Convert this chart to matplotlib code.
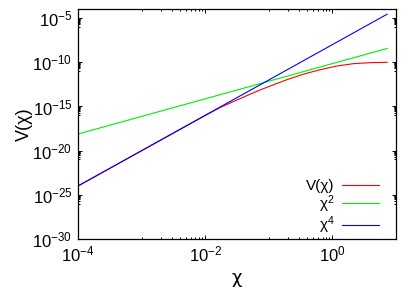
import matplotlib
matplotlib.use("Agg")
import matplotlib.pyplot as plt
import numpy as np
from matplotlib.ticker import FixedLocator, LogFormatterSciNotation, NullFormatter

plt.rcParams['font.family'] = ['Liberation Sans', 'DejaVu Sans']
plt.rcParams['mathtext.fontset'] = 'custom'
plt.rcParams['mathtext.rm'] = 'Liberation Sans'
plt.rcParams['mathtext.it'] = 'Liberation Sans:italic'
plt.rcParams['mathtext.bf'] = 'Liberation Sans:bold'
plt.rcParams['axes.unicode_minus'] = False

# data
v_x = [1e-4, 1e-2, 0.0172, 0.0251, 0.0356, 0.0501, 0.0735, 0.120, 0.194,
       0.355, 0.647, 1.175, 2.16, 3.98, 7.26]
v_y = [1e-24, 9.5e-17, 7.6e-16, 2.63e-15, 7.9e-15, 2.34e-14, 7.6e-14, 3.0e-13, 1.1e-12,
       4.7e-12, 1.48e-11, 3.8e-11, 7.1e-11, 9.1e-11, 1.0e-10]
chi2_x = [1e-4, 7.26]
chi2_y = [7.6e-19, 3.7e-9]
chi4_x = [1e-4, 7.26]
chi4_y = [1e-24, 2.8e-5]

labels = ['V(χ)', 'χ$^{2}$', 'χ$^{4}$']
colors = ['#ff0000', '#00ee00', '#0000ff']

x_major = [1e-4, 1e-2, 1e0]
y_major = [1e-30, 1e-25, 1e-20, 1e-15, 1e-10, 1e-5]

fig = plt.figure(figsize=(4.09, 2.94), dpi=100)
ax = fig.add_axes([78/409, 1-239/294, (396-78)/409, (239-9.3)/294])

ax.plot(v_x, v_y, color=colors[0], lw=0.8, label=labels[0])
ax.plot(chi2_x, chi2_y, color=colors[1], lw=0.8, label=labels[1])
ax.plot(chi4_x, chi4_y, color=colors[2], lw=0.8, label=labels[2])

ax.set_xscale('log')
ax.set_yscale('log')
ax.set_xlim(1e-4, 10)
ax.set_ylim(1e-30, 1e-4)

ax.xaxis.set_major_locator(FixedLocator(x_major))
ax.yaxis.set_major_locator(FixedLocator(y_major))
xminor = [k * m / 10 for m in [1e-2, 1e0] for k in range(1, 10)]
yminor = [k * m / 10 for m in y_major[1:] for k in range(1, 10)]
ax.xaxis.set_minor_locator(FixedLocator(xminor))
ax.yaxis.set_minor_locator(FixedLocator(yminor))
ax.xaxis.set_major_formatter(LogFormatterSciNotation())
ax.yaxis.set_major_formatter(LogFormatterSciNotation())
ax.xaxis.set_minor_formatter(NullFormatter())
ax.yaxis.set_minor_formatter(NullFormatter())

ax.tick_params(which='both', direction='in', top=True, right=True, labelsize=12, width=0.7)
ax.tick_params(which='major', length=3.2, pad=4)
ax.tick_params(which='minor', length=1.6)
for s in ax.spines.values():
    s.set_linewidth(0.9)

ax.set_xlabel('χ', fontsize=13, family=['DejaVu Sans'])
ax.set_ylabel('V(χ)', fontsize=13)
ax.xaxis.set_label_coords(0.5, -0.13)
ax.yaxis.set_label_coords(-0.142, 0.5)

leg = ax.legend(loc='lower right', markerfirst=False, frameon=False, fontsize=11,
                handlelength=2.4, handletextpad=0.5, labelspacing=0.0,
                borderaxespad=0.0, bbox_to_anchor=(0.965, -0.015))

fig.savefig('out.png', dpi=100)
